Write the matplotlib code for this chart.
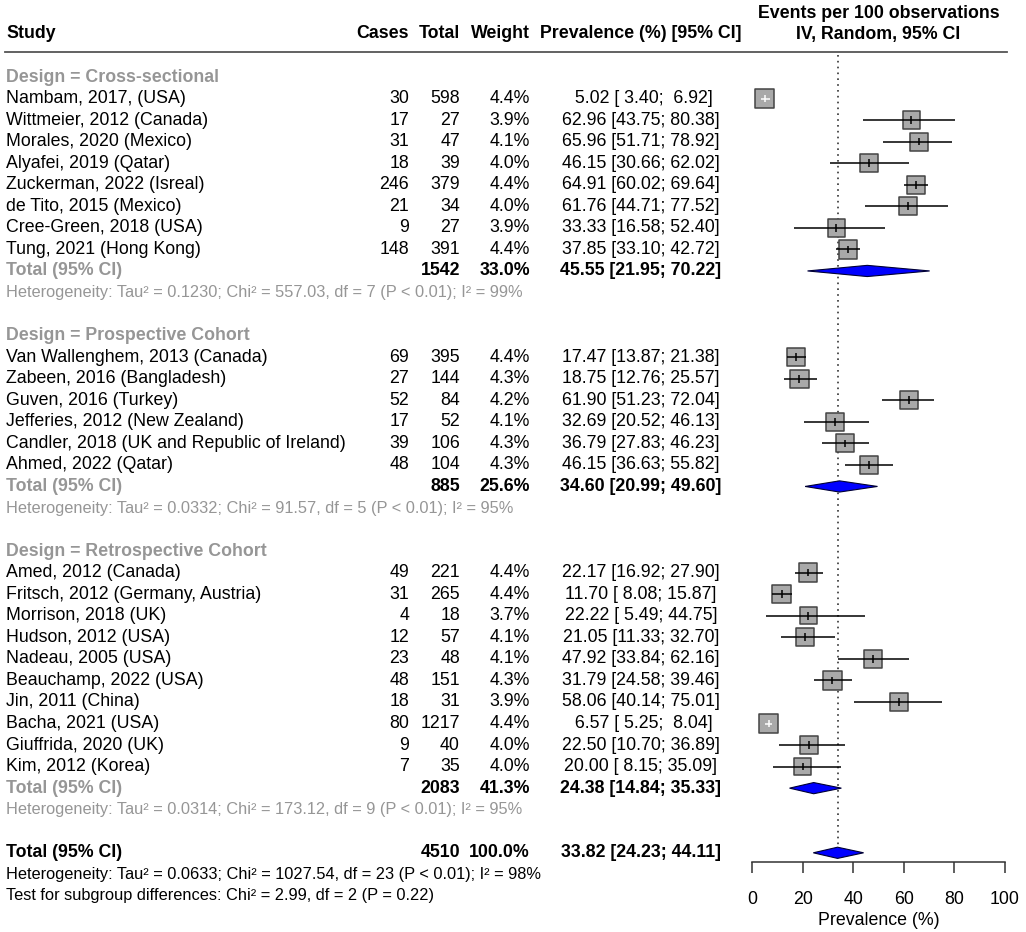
import numpy as np
import matplotlib.pyplot as plt
from matplotlib.patches import Polygon

plt.rcParams['font.family'] = ['Liberation Sans', 'DejaVu Sans']

# --- data -------------------------------------------------------------
cs_study = ['Nambam, 2017, (USA)', 'Wittmeier, 2012 (Canada)', 'Morales, 2020 (Mexico)',
            'Alyafei, 2019 (Qatar)', 'Zuckerman, 2022 (Isreal)', 'de Tito, 2015 (Mexico)',
            'Cree-Green, 2018 (USA)', 'Tung, 2021 (Hong Kong)']
cs_cases = [30, 17, 31, 18, 246, 21, 9, 148]
cs_total = [598, 27, 47, 39, 379, 34, 27, 391]
cs_weight = [4.4, 3.9, 4.1, 4.0, 4.4, 4.0, 3.9, 4.4]
cs_prev = [5.02, 62.96, 65.96, 46.15, 64.91, 61.76, 33.33, 37.85]
cs_lo = [3.40, 43.75, 51.71, 30.66, 60.02, 44.71, 16.58, 33.10]
cs_hi = [6.92, 80.38, 78.92, 62.02, 69.64, 77.52, 52.40, 42.72]

pc_study = ['Van Wallenghem, 2013 (Canada)', 'Zabeen, 2016 (Bangladesh)', 'Guven, 2016 (Turkey)',
            'Jefferies, 2012 (New Zealand)', 'Candler, 2018 (UK and Republic of Ireland)',
            'Ahmed, 2022 (Qatar)']
pc_cases = [69, 27, 52, 17, 39, 48]
pc_total = [395, 144, 84, 52, 106, 104]
pc_weight = [4.4, 4.3, 4.2, 4.1, 4.3, 4.3]
pc_prev = [17.47, 18.75, 61.90, 32.69, 36.79, 46.15]
pc_lo = [13.87, 12.76, 51.23, 20.52, 27.83, 36.63]
pc_hi = [21.38, 25.57, 72.04, 46.13, 46.23, 55.82]

rc_study = ['Amed, 2012 (Canada)', 'Fritsch, 2012 (Germany, Austria)', 'Morrison, 2018 (UK)',
            'Hudson, 2012 (USA)', 'Nadeau, 2005 (USA)', 'Beauchamp, 2022 (USA)',
            'Jin, 2011 (China)', 'Bacha, 2021 (USA)', 'Giuffrida, 2020 (UK)', 'Kim, 2012 (Korea)']
rc_cases = [49, 31, 4, 12, 23, 48, 18, 80, 9, 7]
rc_total = [221, 265, 18, 57, 48, 151, 31, 1217, 40, 35]
rc_weight = [4.4, 4.4, 3.7, 4.1, 4.1, 4.3, 3.9, 4.4, 4.0, 4.0]
rc_prev = [22.17, 11.70, 22.22, 21.05, 47.92, 31.79, 58.06, 6.57, 22.50, 20.00]
rc_lo = [16.92, 8.08, 5.49, 11.33, 33.84, 24.58, 40.14, 5.25, 10.70, 8.15]
rc_hi = [27.90, 15.87, 44.75, 32.70, 62.16, 39.46, 75.01, 8.04, 36.89, 35.09]

designs = ['Cross-sectional', 'Prospective Cohort', 'Retrospective Cohort']
sub_total = [1542, 885, 2083]
sub_weight = [33.0, 25.6, 41.3]
sub_prev = [45.55, 34.60, 24.38]
sub_lo = [21.95, 20.99, 14.84]
sub_hi = [70.22, 49.60, 35.33]
sub_tau2 = ['0.1230', '0.0332', '0.0314']
sub_chi2 = [557.03, 91.57, 173.12]
sub_df = [7, 5, 9]
sub_i2 = [99, 95, 95]

all_total = 4510
all_prev, all_lo, all_hi = 33.82, 24.23, 44.11
all_tau2, all_chi2, all_df, all_i2 = '0.0633', 1027.54, 23, 98
sg_chi2, sg_df, sg_p = 2.99, 2, 0.22

groups = [
    (cs_study, cs_cases, cs_total, cs_weight, cs_prev, cs_lo, cs_hi),
    (pc_study, pc_cases, pc_total, pc_weight, pc_prev, pc_lo, pc_hi),
    (rc_study, rc_cases, rc_total, rc_weight, rc_prev, rc_lo, rc_hi),
]

# --- layout (pixels) ---------------------------------------------------
W, H = 1026, 932
ROW0, DY = 77, 21.55
FX0, FX1 = 752, 1005          # forest panel x range
TOP, AXY = 52, 862            # header line / x axis line
x_study, x_cases, x_total, x_weight, x_prev = 6, 409, 460, 530, 641
FS = 12.8
FSH = 11.8   # heterogeneity lines are a bit smaller
GRAY = '#969696'


def ci_text(p, l, h):
    return f'{p:5.2f} [{l:5.2f}; {h:5.2f}]'


fig = plt.figure(figsize=(W / 100, H / 100), dpi=100)
tab = fig.add_axes([0, 0, 1, 1])
tab.set_xlim(0, W)
tab.set_ylim((H - ROW0) / DY, -ROW0 / DY)
tab.axis('off')

ax = fig.add_axes([FX0 / W, 1 - AXY / H, (FX1 - FX0) / W, (AXY - TOP) / H])
ax.set_xlim(0, 100)
ax.set_ylim((AXY - ROW0) / DY, (TOP - ROW0) / DY)
ax.patch.set_alpha(0)

# header
hdr = (34 - ROW0) / DY
tab.text(x_study, hdr, 'Study', fontsize=FS, fontweight='bold', va='center')
tab.text(x_cases, hdr, 'Cases', fontsize=FS, fontweight='bold', va='center', ha='right')
tab.text(x_total, hdr, 'Total', fontsize=FS, fontweight='bold', va='center', ha='right')
tab.text(x_weight, hdr, 'Weight', fontsize=FS, fontweight='bold', va='center', ha='right')
tab.text(x_prev, hdr, 'Prevalence (%) [95% CI]', fontsize=FS, fontweight='bold',
         va='center', ha='center')
tab.text((FX0 + FX1) / 2, (13 - ROW0) / DY, 'Events per 100 observations', fontsize=FS,
         fontweight='bold', va='center', ha='center')
tab.text((FX0 + FX1) / 2, hdr, 'IV, Random, 95% CI', fontsize=FS,
         fontweight='bold', va='center', ha='center')
tab.axhline((TOP - ROW0) / DY, xmin=5 / W, xmax=1007 / W, color='#555555', lw=1.3)

px_per_unit = (FX1 - FX0) / 100.0
r = 0
for g, (study, cases, total, weight, prev, lo, hi) in enumerate(groups):
    tab.text(x_study, r, 'Design = ' + designs[g], fontsize=FS, fontweight='bold',
             color=GRAY, va='center')
    r += 1
    rows = np.arange(r, r + len(study))
    for i, s in enumerate(study):
        y = rows[i]
        tab.text(x_study, y, s, fontsize=FS, va='center')
        tab.text(x_cases, y, str(cases[i]), fontsize=FS, va='center', ha='right')
        tab.text(x_total, y, str(total[i]), fontsize=FS, va='center', ha='right')
        tab.text(x_weight, y, f'{weight[i]:.1f}%', fontsize=FS, va='center', ha='right')
        tab.text(x_prev, y, ci_text(prev[i], lo[i], hi[i]), fontsize=FS, va='center', ha='center')
    side = 18.5 * np.sqrt(np.array(weight) / 4.4)  # px
    ax.scatter(prev, rows, s=(side * 0.72) ** 2, marker='s', facecolor='#a9a9a9',
               edgecolor='#444444', linewidths=1.1, zorder=2)
    inside = (np.array(hi) - np.array(lo)) * px_per_unit < side
    cols = np.where(inside, 'white', 'black')
    ax.hlines(rows, lo, hi, colors=cols, lw=1.1, zorder=3)
    ax.scatter(prev, rows, s=30, marker='|', c=cols, linewidths=1.1, zorder=4)
    r += len(study)
    # subgroup total
    tab.text(x_study, r, 'Total (95% CI)', fontsize=FS, fontweight='bold', color=GRAY, va='center')
    tab.text(x_total, r, str(sub_total[g]), fontsize=FS, fontweight='bold', va='center', ha='right')
    tab.text(x_weight, r, f'{sub_weight[g]:.1f}%', fontsize=FS, fontweight='bold',
             va='center', ha='right')
    tab.text(x_prev, r, ci_text(sub_prev[g], sub_lo[g], sub_hi[g]), fontsize=FS,
             fontweight='bold', va='center', ha='center')
    hh = 0.26
    ax.add_patch(Polygon([(sub_lo[g], r), (sub_prev[g], r - hh), (sub_hi[g], r),
                          (sub_prev[g], r + hh)], closed=True, facecolor='#0000ff',
                         edgecolor='#000033', lw=0.8, zorder=3))
    r += 1
    tab.text(x_study, r, f'Heterogeneity: Tau² = {sub_tau2[g]}; Chi² = {sub_chi2[g]:.2f}, '
             f'df = {sub_df[g]} (P < 0.01); I² = {sub_i2[g]}%', fontsize=FSH, color=GRAY,
             va='center')
    r += 2

# overall
tab.text(x_study, r, 'Total (95% CI)', fontsize=FS, fontweight='bold', va='center')
tab.text(x_total, r, str(all_total), fontsize=FS, fontweight='bold', va='center', ha='right')
tab.text(x_weight, r, '100.0%', fontsize=FS, fontweight='bold', va='center', ha='right')
tab.text(x_prev, r, ci_text(all_prev, all_lo, all_hi), fontsize=FS, fontweight='bold',
         va='center', ha='center')
hh = 0.26
ax.add_patch(Polygon([(all_lo, r), (all_prev, r - hh), (all_hi, r), (all_prev, r + hh)],
                     closed=True, facecolor='#0000ff', edgecolor='#000033', lw=0.8, zorder=3))
ax.vlines(all_prev, (TOP + 3 - ROW0) / DY, r, colors='#333333', lw=1.2,
          linestyles=(0, (1, 2.5)), zorder=1)
tab.text(x_study, r + 1, f'Heterogeneity: Tau² = {all_tau2}; Chi² = {all_chi2:.2f}, '
         f'df = {all_df} (P < 0.01); I² = {all_i2}%', fontsize=FSH, va='center')
tab.text(x_study, r + 2, f'Test for subgroup differences: Chi² = {sg_chi2:.2f}, '
         f'df = {sg_df} (P = {sg_p:.2f})', fontsize=FSH, va='center')

# axis
for sp in ['top', 'left', 'right']:
    ax.spines[sp].set_visible(False)
ax.spines['bottom'].set_bounds(0, 100)
ax.spines['bottom'].set_color('#333333')
ax.spines['bottom'].set_linewidth(1.1)
ax.set_yticks([])
ax.set_xticks(np.arange(0, 101, 20))
ax.tick_params(axis='x', length=8, width=1.1, color='#333333', labelsize=FS, pad=13)
ax.set_xlabel('Prevalence (%)', fontsize=FS, labelpad=3)

fig.savefig('out.png', dpi=100)
